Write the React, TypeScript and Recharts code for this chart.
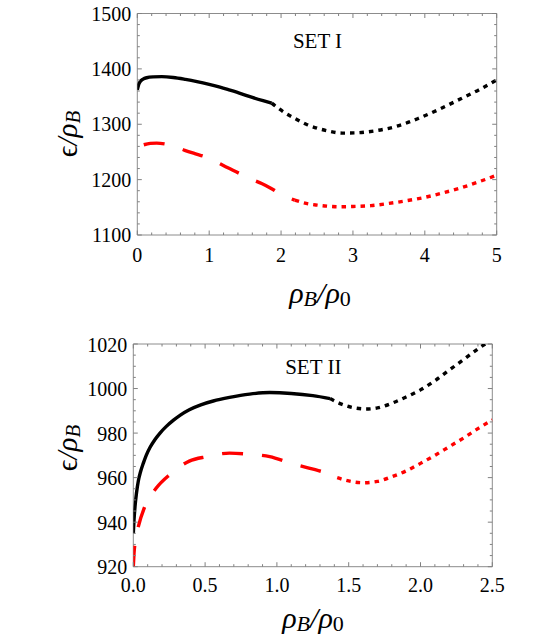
import React from 'react';
import { LineChart, Line, XAxis, YAxis, ReferenceArea } from 'recharts';

const FONT = "'Liberation Serif','Times New Roman','DejaVu Serif',serif";
const TICK = '#808080';
const FRAME = '#8c8c8c';

type P = { x: number; y: number };
const pts = (a: number[][]): P[] => a.map(([x, y]) => ({ x, y }));

// ---------- SET I ----------
const set1XMajor = [0, 1, 2, 3, 4, 5];
const set1YMajor = [1100, 1200, 1300, 1400, 1500];
const set1XTicks = Array.from({ length: 26 }, (_, i) => +(i * 0.2).toFixed(2));
const set1YTicks = Array.from({ length: 21 }, (_, i) => 1100 + i * 20);

const set1BlackSolid = pts([
  [0, 1362], [0.015, 1370], [0.04, 1377], [0.08, 1381.5], [0.13, 1384], [0.22, 1385.5],
  [0.34, 1386], [0.5, 1384.5], [0.67, 1381], [0.83, 1377], [1.0, 1372], [1.15, 1367],
  [1.29, 1361.5], [1.45, 1355], [1.6, 1348.5], [1.75, 1342.5], [1.87, 1338],
]);
const set1BlackDotted = pts([
  [1.87, 1338], [1.95, 1330], [2.05, 1321], [2.2, 1310], [2.35, 1300], [2.5, 1293],
  [2.65, 1288], [2.85, 1284], [3.05, 1284.5], [3.3, 1288], [3.6, 1296], [3.9, 1310],
  [4.2, 1327], [4.5, 1346], [4.75, 1362], [5.0, 1380],
]);
const set1RedDashed = pts([
  [0.09, 1263], [0.18, 1265.5], [0.27, 1266], [0.38, 1264.5], [0.52, 1260], [0.66, 1253],
  [0.8, 1247], [0.95, 1241], [1.1, 1232], [1.19, 1226], [1.33, 1217], [1.47, 1208],
  [1.6, 1200], [1.73, 1193], [1.85, 1185], [1.98, 1175], [2.19, 1163],
]);
const set1RedDotted = pts([
  [2.19, 1163], [2.35, 1157], [2.5, 1154], [2.65, 1152], [2.82, 1151], [3.0, 1151.5],
  [3.25, 1153], [3.5, 1157], [3.75, 1162], [4.0, 1168], [4.25, 1176], [4.5, 1185],
  [4.75, 1196], [5.0, 1208],
]);

// ---------- SET II ----------
const set2XMajor = [0, 0.5, 1, 1.5, 2, 2.5];
const set2YMajor = [920, 940, 960, 980, 1000, 1020];
const set2XTicks = Array.from({ length: 26 }, (_, i) => +(i * 0.1).toFixed(2));
const set2YTicks = Array.from({ length: 21 }, (_, i) => 920 + i * 5);

const set2BlackSolid = pts([
  [0, 935], [0.005, 941], [0.012, 947], [0.022, 953], [0.035, 958.5], [0.05, 962.5],
  [0.07, 966.5], [0.09, 970], [0.116, 973.5], [0.15, 977], [0.186, 980], [0.23, 983],
  [0.28, 985.8], [0.33, 988.2], [0.39, 990.5], [0.47, 992.7], [0.557, 994.4],
  [0.67, 996], [0.81, 997.5], [0.95, 998.2], [1.1, 997.8], [1.25, 996.8], [1.37, 995.5],
]);
const set2BlackDotted = pts([
  [1.37, 995.5], [1.45, 993], [1.55, 991.2], [1.62, 990.8], [1.7, 991.3], [1.8, 993.4],
  [1.9, 996.2], [2.0, 999.4], [2.1, 1003.5], [2.2, 1008.3], [2.3, 1013], [2.4, 1017.8],
  [2.45, 1020],
]);
const set2RedDashed = pts([
  [0, 920], [0.005, 926], [0.015, 932], [0.035, 938], [0.08, 947], [0.16, 955.3],
  [0.255, 961.4], [0.39, 967.4], [0.51, 969.4], [0.67, 971], [0.81, 970.5], [0.95, 969.4],
  [1.1, 966.4], [1.23, 964.2], [1.38, 961.2], [1.42, 960],
]);
const set2RedDotted = pts([
  [1.42, 960], [1.5, 958.5], [1.6, 957.7], [1.7, 958.3], [1.8, 960.4], [1.9, 963],
  [2.0, 966.4], [2.1, 970], [2.2, 973.9], [2.3, 977.8], [2.4, 982], [2.5, 985.9],
]);

const isIn = (arr: number[], v: number) => arr.some((m) => Math.abs(m - v) < 1e-6);
const textStyle = { fontFamily: FONT, fontSize: 20, fill: '#000' };

function makeXTick(major: number[], plotH: number, labelDy: number, fmt: (v: number) => string) {
  return (props: any) => {
    const { x, y, payload } = props;
    const v = payload.value;
    const mj = isIn(major, v);
    const len = mj ? 4.5 : 2.5;
    return (
      <g>
        <line x1={x} y1={y} x2={x} y2={y - len} stroke={TICK} strokeWidth={1} />
        <line x1={x} y1={y - plotH} x2={x} y2={y - plotH + len} stroke={TICK} strokeWidth={1} />
        {mj && (
          <text x={x} y={y + labelDy} textAnchor="middle" fontFamily={FONT} style={textStyle}>
            {fmt(v)}
          </text>
        )}
      </g>
    );
  };
}

function makeYTick(major: number[], plotW: number, labelDy: number) {
  return (props: any) => {
    const { x, y, payload } = props;
    const v = payload.value;
    const mj = isIn(major, v);
    const len = mj ? 4.5 : 2.5;
    return (
      <g>
        <line x1={x} y1={y} x2={x + len} y2={y} stroke={TICK} strokeWidth={1} />
        <line x1={x + plotW} y1={y} x2={x + plotW - len} y2={y} stroke={TICK} strokeWidth={1} />
        {mj && (
          <text x={x - 6} y={y + labelDy} textAnchor="end" fontFamily={FONT} style={textStyle}>
            {String(v)}
          </text>
        )}
      </g>
    );
  };
}

const lineCommon = { type: 'monotone' as const, dataKey: 'y', dot: false, activeDot: false, isAnimationActive: false };

function XTitle({ cx, y }: { cx: number; y: number }) {
  return (
    <text x={cx} y={y} textAnchor="middle" style={{ fontFamily: FONT, fontSize: 30, fontStyle: 'italic', fill: '#000' }}>
      <tspan>ρ</tspan>
      <tspan fontSize={22} dy={3}>B</tspan>
      <tspan dy={-3}>/</tspan>
      <tspan>ρ</tspan>
      <tspan fontSize={22} dy={3} fontStyle="normal">0</tspan>
    </text>
  );
}

function YTitle({ cx, cy }: { cx: number; cy: number }) {
  return (
    <g transform={`translate(${cx} ${cy}) rotate(-90)`}>
      <text x={0} y={9} textAnchor="middle" style={{ fontFamily: FONT, fontSize: 29, fill: '#000' }}>
        <tspan>ϵ</tspan>
        <tspan fontStyle="italic">/ρ</tspan>
        <tspan fontSize={21} dy={3} fontStyle="italic">B</tspan>
      </text>
    </g>
  );
}

export default function App() {
  const p1 = { left: 137.3, right: 496.7, top: 13.5, bottom: 235, h: 300 };
  const p2 = { left: 133.3, right: 492.3, top: 44, bottom: 266.7, h: 343, off: 300 };
  const W = 545;

  return (
    <div style={{ position: 'absolute', left: 0, top: 0, width: W, height: 643, background: '#fff' }}>
      <div style={{ position: 'absolute', left: 0, top: 0 }}>
        <LineChart
          width={W}
          height={p1.h}
          margin={{ top: p1.top, right: W - p1.right, bottom: 0, left: 0 }}
        >
          <XAxis
            dataKey="x"
            type="number"
            domain={[0, 5]}
            ticks={set1XTicks}
            interval={0}
            allowDataOverflow
            height={p1.h - p1.bottom}
            tickSize={0}
            tickMargin={0}
            tickLine={false}
            axisLine={false}
            tick={makeXTick(set1XMajor, p1.bottom - p1.top, 26.5, (v) => String(v))}
          />
          <YAxis
            type="number"
            domain={[1100, 1500]}
            ticks={set1YTicks}
            interval={0}
            allowDataOverflow
            width={p1.left}
            tickSize={0}
            tickMargin={0}
            tickLine={false}
            axisLine={false}
            tick={makeYTick(set1YMajor, p1.right - p1.left, 7)}
          />
          <ReferenceArea x1={0} x2={5} y1={1100} y2={1500} fill="none" stroke={FRAME} strokeWidth={1} ifOverflow="visible" />
          <Line {...lineCommon} data={set1BlackSolid} stroke="#000" strokeWidth={3.4} />
          <Line {...lineCommon} data={set1BlackDotted} stroke="#000" strokeWidth={3.4} strokeDasharray="4.5 5" />
          <Line {...lineCommon} data={set1RedDashed} stroke="#ff0000" strokeWidth={3.4} strokeDasharray="21 19" />
          <Line {...lineCommon} data={set1RedDotted} stroke="#ff0000" strokeWidth={3.4} strokeDasharray="4.5 5" />
        </LineChart>
      </div>
      <div style={{ position: 'absolute', left: 0, top: p2.off }}>
        <LineChart
          width={W}
          height={p2.h}
          margin={{ top: p2.top, right: W - p2.right, bottom: 0, left: 0 }}
        >
          <XAxis
            dataKey="x"
            type="number"
            domain={[0, 2.5]}
            ticks={set2XTicks}
            interval={0}
            allowDataOverflow
            height={p2.h - p2.bottom}
            tickSize={0}
            tickMargin={0}
            tickLine={false}
            axisLine={false}
            tick={makeXTick(set2XMajor, p2.bottom - p2.top, 25, (v) => v.toFixed(1))}
          />
          <YAxis
            type="number"
            domain={[920, 1020]}
            ticks={set2YTicks}
            interval={0}
            allowDataOverflow
            width={p2.left}
            tickSize={0}
            tickMargin={0}
            tickLine={false}
            axisLine={false}
            tick={makeYTick(set2YMajor, p2.right - p2.left, 7.5)}
          />
          <ReferenceArea x1={0} x2={2.5} y1={920} y2={1020} fill="none" stroke={FRAME} strokeWidth={1} ifOverflow="visible" />
          <Line {...lineCommon} data={set2BlackSolid} stroke="#000" strokeWidth={3.4} />
          <Line {...lineCommon} data={set2BlackDotted} stroke="#000" strokeWidth={3.4} strokeDasharray="4.5 5" />
          <Line {...lineCommon} data={set2RedDashed} stroke="#ff0000" strokeWidth={3.4} strokeDasharray="21 19" />
          <Line {...lineCommon} data={set2RedDotted} stroke="#ff0000" strokeWidth={3.4} strokeDasharray="4.5 5" />
        </LineChart>
      </div>
      <svg width={W} height={643} style={{ position: 'absolute', left: 0, top: 0, pointerEvents: 'none' }}>
        <text x={317.5} y={48.3} textAnchor="middle" style={{ fontFamily: FONT, fontSize: 21, fill: '#000' }}>SET I</text>
        <text x={313.3} y={374} textAnchor="middle" style={{ fontFamily: FONT, fontSize: 21, fill: '#000' }}>SET II</text>
        <XTitle cx={320} y={303} />
        <XTitle cx={313} y={628} />
        <YTitle cx={68} cy={134} />
        <YTitle cx={68} cy={448} />
      </svg>
    </div>
  );
}
